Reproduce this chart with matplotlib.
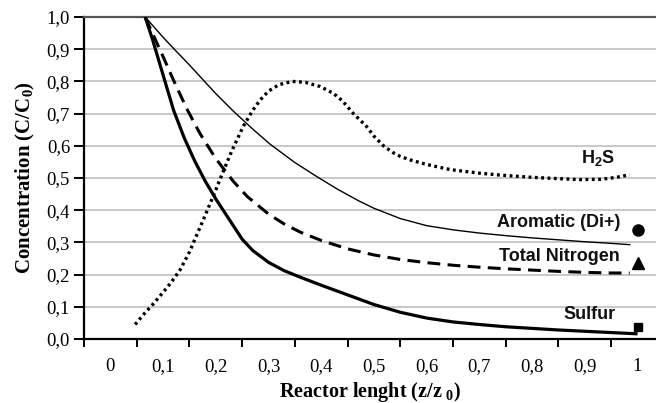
import matplotlib
matplotlib.use("Agg")
import matplotlib.pyplot as plt
from matplotlib.ticker import FixedLocator, NullFormatter, FixedFormatter

plt.rcParams['mathtext.default'] = 'regular'

# ---- data ----
x_sulfur = [0.066, 0.08, 0.10, 0.12, 0.14, 0.16, 0.18, 0.20, 0.22, 0.25, 0.27, 0.30,
            0.33, 0.36, 0.40, 0.45, 0.50, 0.55, 0.60, 0.65, 0.70, 0.75, 0.80, 0.85,
            0.90, 0.95, 1.00]
y_sulfur = [1.00, 0.93, 0.82, 0.71, 0.625, 0.553, 0.49, 0.435, 0.385, 0.31, 0.275, 0.238,
            0.212, 0.192, 0.167, 0.137, 0.107, 0.083, 0.065, 0.053, 0.045, 0.038, 0.033, 0.028,
            0.024, 0.02, 0.016]

x_nitrogen = [0.066, 0.088, 0.10, 0.12, 0.145, 0.17, 0.20, 0.233, 0.26, 0.30, 0.33, 0.36,
              0.40, 0.45, 0.50, 0.55, 0.60, 0.65, 0.70, 0.75, 0.80, 0.85, 0.90, 0.95, 0.985]
y_nitrogen = [1.00, 0.92, 0.877, 0.803, 0.715, 0.638, 0.56, 0.49, 0.442, 0.388, 0.357, 0.332,
              0.306, 0.28, 0.261, 0.247, 0.237, 0.229, 0.223, 0.218, 0.214, 0.21, 0.207, 0.205, 0.205]

x_aromatic = [0.066, 0.10, 0.123, 0.15, 0.173, 0.20, 0.233, 0.27, 0.303, 0.35, 0.391, 0.43,
              0.47, 0.50, 0.55, 0.60, 0.65, 0.70, 0.75, 0.80, 0.85, 0.90, 0.95, 0.985]
y_aromatic = [1.00, 0.937, 0.897, 0.851, 0.81, 0.762, 0.708, 0.652, 0.605, 0.548, 0.505, 0.466,
              0.43, 0.406, 0.374, 0.352, 0.339, 0.329, 0.321, 0.314, 0.308, 0.302, 0.297, 0.293]

x_h2s = [0.047, 0.065, 0.082, 0.10, 0.115, 0.132, 0.15, 0.163, 0.175, 0.189, 0.20, 0.214,
         0.23, 0.252, 0.27, 0.284, 0.30, 0.32, 0.345, 0.37, 0.398, 0.423, 0.44, 0.461,
         0.486, 0.50, 0.518, 0.535, 0.55, 0.569, 0.60, 0.645, 0.70, 0.74, 0.80, 0.85,
         0.891, 0.93, 0.96, 0.985]
y_h2s = [0.045, 0.08, 0.11, 0.145, 0.175, 0.214, 0.27, 0.32, 0.365, 0.42, 0.463, 0.52,
         0.583, 0.66, 0.71, 0.742, 0.77, 0.79, 0.80, 0.797, 0.784, 0.763, 0.74, 0.70,
         0.66, 0.63, 0.60, 0.58, 0.567, 0.556, 0.542, 0.526, 0.515, 0.509, 0.502, 0.498,
         0.495, 0.496, 0.502, 0.51]

marker_x = [1.0, 1.0, 1.0]
marker_y = [0.34, 0.235, 0.038]          # Aromatic, Total Nitrogen, Sulfur
marker_styles = ['o', '^', 's']
marker_sizes = [8, 8, 6]

x_tick_values = [0, 0.1, 0.2, 0.3, 0.4, 0.5, 0.6, 0.7, 0.8, 0.9, 1.0]
x_tick_labels = ['0', '0,1', '0,2', '0,3', '0,4', '0,5', '0,6', '0,7', '0,8', '0,9', '1']
y_tick_values = [0.0, 0.1, 0.2, 0.3, 0.4, 0.5, 0.6, 0.7, 0.8, 0.9, 1.0]
y_tick_labels = ['0,0', '0,1', '0,2', '0,3', '0,4', '0,5', '0,6', '0,7', '0,8', '0,9', '1,0']

labels = ['H$_2$S', 'Aromatic (Di+)', 'Total Nitrogen', 'Sulfur']
label_x = [0.925, 0.967, 0.967, 0.958]
label_y = [0.562, 0.361, 0.256, 0.075]
label_ha = ['center', 'right', 'right', 'right']

# ---- figure ----
fig = plt.figure(figsize=(6.56, 4.03), dpi=100)
ax = fig.add_axes([84/656, 1 - 339/403, 1 - 84/656, (339 - 17)/403])

ax.set_xlim(-0.05, 1.035)
ax.set_ylim(0, 1.0)

# grid
for yv in y_tick_values[1:-1]:
    ax.axhline(yv, color='#c8c8c8', lw=1.4, zorder=0)

ax.plot(x_sulfur, y_sulfur, color='black', lw=2.3, solid_capstyle='butt', zorder=3)
ax.plot(x_nitrogen, y_nitrogen, color='black', lw=2.2, linestyle=(0, (4.2, 2.4)), zorder=3)
ax.plot(x_aromatic, y_aromatic, color='black', lw=1.0, zorder=3)
ax.plot(x_h2s, y_h2s, color='black', lw=2.4, linestyle=(0, (0.85, 1.05)), zorder=3)

for mx, my, ms, sz in zip(marker_x, marker_y, marker_styles, marker_sizes):
    ax.plot([mx], [my], marker=ms, color='black', markersize=sz, linestyle='none',
            clip_on=False, zorder=4)

for t, lx, ly, ha in zip(labels, label_x, label_y, label_ha):
    ax.text(lx, ly, t, ha=ha, va='center', fontsize=13, fontweight='bold',
            family='Liberation Sans', color='#111111')

# spines
ax.spines['right'].set_visible(False)
ax.spines['top'].set_color('#555555')
ax.spines['top'].set_linewidth(1.6)
ax.spines['left'].set_linewidth(1.6)
ax.spines['bottom'].set_linewidth(1.6)

# x ticks: marks at category boundaries, labels at centres
boundaries = [v - 0.05 for v in x_tick_values]
ax.xaxis.set_major_locator(FixedLocator(boundaries))
ax.xaxis.set_major_formatter(NullFormatter())
ax.xaxis.set_minor_locator(FixedLocator(x_tick_values))
ax.xaxis.set_minor_formatter(FixedFormatter(x_tick_labels))
ax.tick_params(axis='x', which='major', direction='out', length=6, width=1.4)
ax.tick_params(axis='x', which='minor', length=0, pad=14, labelsize=13.5)

ax.set_yticks(y_tick_values)
ax.set_yticklabels(y_tick_labels)
ax.tick_params(axis='y', direction='out', length=7, width=1.4, labelsize=13.5, pad=3)

for lab in ax.get_xticklabels(minor=True) + ax.get_yticklabels():
    lab.set_family('Liberation Serif')

ax.set_xlabel('Reactor lenght (z/z$_{\\ 0}$)', fontsize=14.5, fontweight='bold',
              family='Liberation Serif', labelpad=3)
ax.set_ylabel('Concentration (C/C$_0$)', fontsize=15, fontweight='bold',
              family='Liberation Serif', labelpad=7)

fig.savefig('out.png', dpi=100)
